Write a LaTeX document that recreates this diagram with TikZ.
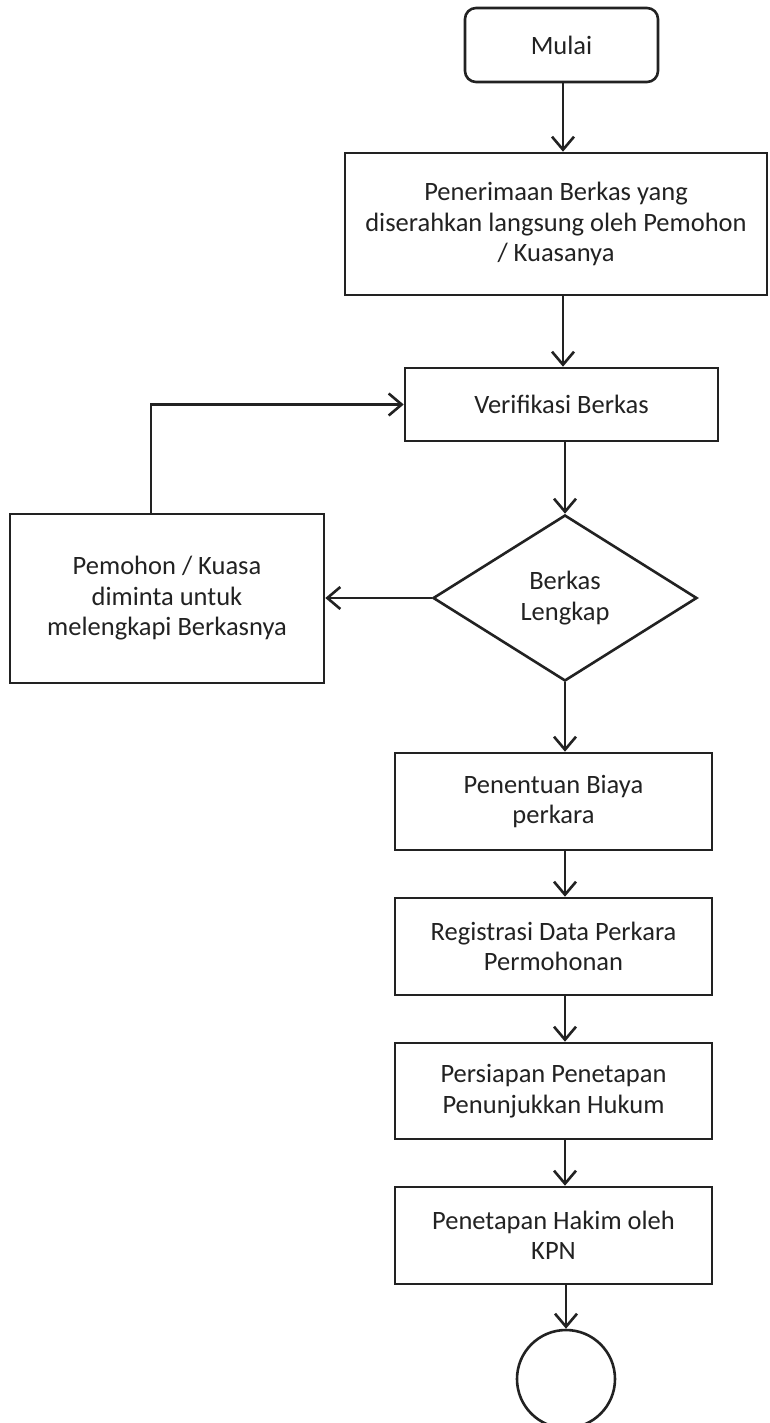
\documentclass[tikz,border=0pt]{standalone}
\usepackage{fontspec}
\setmainfont{Carlito}
\usetikzlibrary{shapes.geometric,arrows.meta}
\definecolor{ink}{HTML}{222222}
\tikzset{
  box/.style={draw=ink, line width=2.6pt, rectangle, inner sep=0pt, align=center,
    font=\fontsize{26.5}{30.5}\selectfont, text=ink},
  dec/.style={draw=ink, line width=2.6pt, diamond, inner sep=0pt, align=center,
    font=\fontsize{26.5}{30.5}\selectfont, text=ink},
  flow/.style={draw=ink, line width=2.6pt, -{Straight Barb[length=13pt,width=22pt,line width=2.6pt]}}
}
\begin{document}
\begin{tikzpicture}[x=1pt,y=-1pt]
\fill[white] (0,0) rectangle (770,1423);
\useasboundingbox (0,0) rectangle (770,1423);
\node[box, rounded corners=11pt, minimum width=193pt, minimum height=74pt] (mulai) at (561.5,45) {Mulai};
\node[box, minimum width=422pt, minimum height=142pt] (pen) at (556,224) {Penerimaan Berkas yang\\diserahkan langsung oleh Pemohon\\/ Kuasanya};
\node[box, minimum width=313pt, minimum height=73pt] (verif) at (561.5,404.5) {Verifikasi Berkas};
\node[dec, minimum width=264pt, minimum height=166pt] (dia) at (565,598) {Berkas\\Lengkap};
\node[box, minimum width=314pt, minimum height=169pt] (pem) at (167,598.5) {Pemohon / Kuasa\\diminta untuk\\melengkapi Berkasnya};
\node[box, minimum width=317pt, minimum height=97pt] (pent) at (553.5,801.5) {Penentuan Biaya\\perkara};
\node[box, minimum width=317pt, minimum height=97pt] (reg) at (553.5,946.5) {Registrasi Data Perkara\\Permohonan};
\node[box, minimum width=317pt, minimum height=96pt] (pers) at (553.5,1091) {Persiapan Penetapan\\Penunjukkan Hukum};
\node[box, minimum width=317pt, minimum height=97pt] (hak) at (553.5,1235.5) {Penetapan Hakim oleh\\KPN};
\node[draw=ink, line width=2.6pt, circle, minimum size=98pt, inner sep=0pt] (end) at (566,1379) {};
\coordinate (sp) at (565,0);
\coordinate (lp) at (151,0);
\draw[flow] (mulai.south -| 563,0) -- (pen.north -| 563,0);
\draw[flow] (pen.south -| 563,0) -- (verif.north -| 563,0);
\draw[flow] (verif.south -| dia.north) -- (dia.north);
\draw[flow] (dia.west) -- (dia.west -| pem.east);
\draw[flow] (pem.north -| lp) |- (verif.west);
\draw[flow] (dia.south) -- (dia.south |- pent.north);
\draw[flow] (pent.south -| sp) -- (reg.north -| sp);
\draw[flow] (reg.south -| sp) -- (pers.north -| sp);
\draw[flow] (pers.south -| sp) -- (hak.north -| sp);
\draw[flow] (hak.south -| end.north) -- (end.north);
\end{tikzpicture}
\end{document}
